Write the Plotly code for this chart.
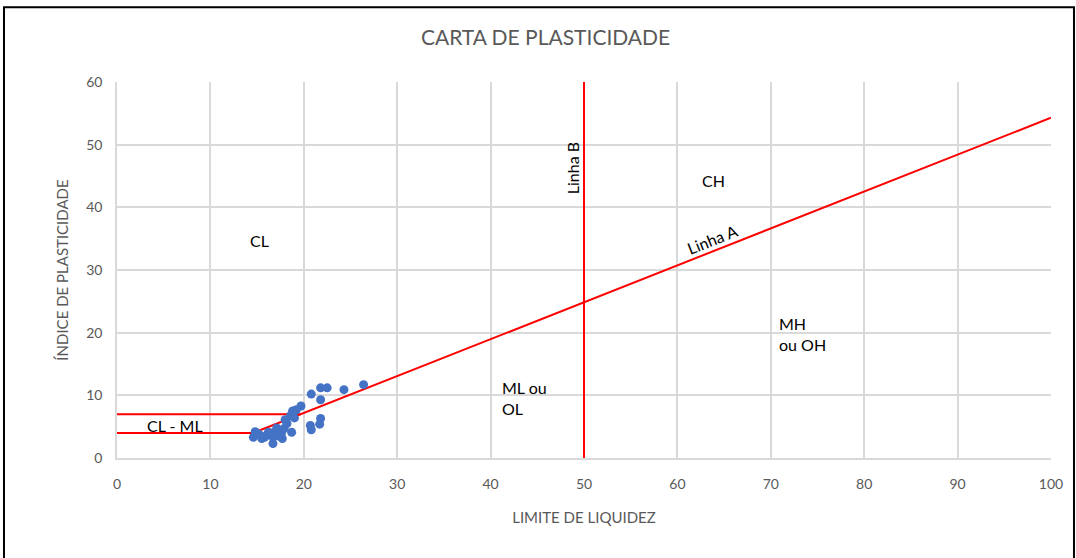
import plotly.graph_objects as go

# Sample data: liquid limit (LL) and plasticity index (PI)
ll = [14.6, 14.8, 15.5, 16.0, 16.2, 16.7, 16.7, 16.9, 17.1, 17.6, 17.7, 17.9, 18.2,
      18.7, 18.6, 18.8, 19.2, 19.7, 20.7, 20.8, 20.8, 21.7, 21.8, 21.8, 21.8, 22.5,
      24.3, 26.4, 15.2, 15.8, 16.5, 17.3, 18.0, 19.0]
pi = [3.3, 4.2, 3.1, 3.6, 4.1, 2.3, 3.3, 4.1, 4.8, 3.9, 3.1, 4.7, 5.5,
      4.1, 6.8, 7.5, 7.7, 8.3, 5.2, 4.5, 10.2, 5.4, 6.3, 9.3, 11.2, 11.2,
      10.9, 11.7, 3.8, 3.3, 4.0, 3.5, 6.1, 6.4]

# Reference lines as drawn on the chart
lineA_x = [0, 14.6, 100]
lineA_y = [4, 4, 54.3]
upper_x = [0, 19.7]
upper_y = [7, 7]
lineB_x = [50, 50]
lineB_y = [0, 60]

# Zone labels
zone_text = ["CL", "CH", "MH<br>ou OH", "ML ou<br>OL", "CL - ML"]
zone_x = [15.3, 63.9, 70.7, 41.0, 6.2]
zone_y = [34.7, 44.3, 19.8, 9.6, 5.2]
zone_anchor = ["center", "center", "left", "left", "center"]

font = "Lato, 'Open Sans', sans-serif"
red = "#FF0000"

fig = go.Figure()
fig.add_trace(go.Scatter(x=lineA_x, y=lineA_y, mode="lines",
                         line=dict(color=red, width=2), showlegend=False, hoverinfo="skip"))
fig.add_trace(go.Scatter(x=upper_x, y=upper_y, mode="lines",
                         line=dict(color=red, width=2), showlegend=False, hoverinfo="skip"))
fig.add_trace(go.Scatter(x=lineB_x, y=lineB_y, mode="lines",
                         line=dict(color=red, width=2), showlegend=False, hoverinfo="skip"))
fig.add_trace(go.Scatter(x=ll, y=pi, mode="markers",
                         marker=dict(color="#4472C4", size=9, line=dict(width=0)),
                         showlegend=False))

for t, x, y, a in zip(zone_text, zone_x, zone_y, zone_anchor):
    fig.add_annotation(x=x, y=y, text=t, showarrow=False, xanchor=a, align="left",
                       font=dict(family=font, size=16, color="#000000"))

fig.add_annotation(x=48.8, y=46.2, text="Linha B", showarrow=False, textangle=-90,
                   font=dict(family=font, size=16, color="#000000"))
fig.add_annotation(x=63.7, y=34.9, text="Linha A", showarrow=False, textangle=-21.5,
                   font=dict(family=font, size=16, color="#000000"))

# outer chart border
fig.add_shape(type="rect", xref="paper", yref="paper",
              x0=-0.121, x1=1.0246, y0=-0.273, y1=1.199,
              line=dict(color="#000000", width=2), fillcolor="rgba(0,0,0,0)", layer="below")

fig.update_layout(
    width=1076, height=558,
    margin=dict(l=117, r=25, t=82, b=100),
    paper_bgcolor="white", plot_bgcolor="white",
    title=dict(text="CARTA DE PLASTICIDADE", x=0.507, xref="container", y=0.932,
               yanchor="middle", font=dict(family=font, size=21, color="#595959")),
    font=dict(family=font, color="#595959"),
)
fig.update_xaxes(range=[0, 100], dtick=10, showgrid=True, gridcolor="#D9D9D9", gridwidth=1.5,
                 zeroline=False, showline=True, linecolor="#D9D9D9", linewidth=1.5,
                 tickfont=dict(family=font, size=14, color="#595959"),
                 ticks="outside", ticklen=12, tickcolor="rgba(0,0,0,0)",
                 title=dict(text="LIMITE DE LIQUIDEZ", standoff=22,
                            font=dict(family=font, size=15, color="#595959")))
fig.update_yaxes(range=[0, 60], dtick=10, showgrid=True, gridcolor="#D9D9D9", gridwidth=1.5,
                 zeroline=False, showline=True, linecolor="#D9D9D9", linewidth=1.5,
                 tickfont=dict(family=font, size=14, color="#595959"),
                 ticks="outside", ticklen=10, tickcolor="rgba(0,0,0,0)",
                 title=dict(text="ÍNDICE DE PLASTICIDADE", standoff=14,
                            font=dict(family=font, size=15, color="#595959")))

fig.write_html("out.html", config={"displayModeBar": False},
               post_script="document.body.style.margin='0';")
